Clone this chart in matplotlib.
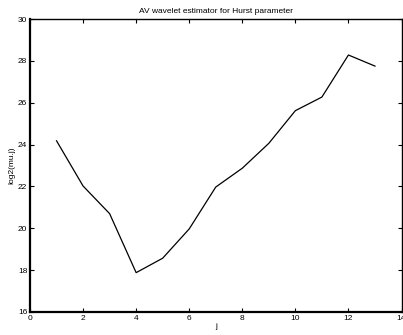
import matplotlib
matplotlib.use("Agg")
import matplotlib.pyplot as plt

# Dữ liệu
j = [1, 2, 3, 4, 5, 6, 7, 8, 9, 10, 11, 12, 13]
log2_mu = [24.18, 22.02, 20.70, 17.88, 18.57, 19.97, 21.97, 22.87, 24.06,
           25.62, 26.27, 28.28, 27.75]
x_ticks = [0, 2, 4, 6, 8, 10, 12, 14]
y_ticks = [16, 18, 20, 22, 24, 26, 28, 30]

plt.rcParams['font.family'] = ['Liberation Sans', 'DejaVu Sans']

fig = plt.figure(figsize=(4.03, 3.35), dpi=100)
ax = fig.add_axes([30 / 403, 1 - 312 / 335, 371.5 / 403, 293 / 335])

ax.plot(j, log2_mu, color='black', linewidth=0.9)

ax.set_xlim(0, 14)
ax.set_ylim(16, 30)
ax.set_xticks(x_ticks)
ax.set_yticks(y_ticks)
ax.tick_params(direction='in', top=True, right=True, length=3, width=0.8,
               labelsize=6, pad=2)

for side in ['left', 'bottom']:
    ax.spines[side].set_linewidth(1.6)
for side in ['top', 'right']:
    ax.spines[side].set_linewidth(1.0)

ax.set_title("AV wavelet estimator for Hurst parameter", fontsize=6, pad=4)
ax.set_xlabel("j", fontsize=6, labelpad=1)
ax.set_ylabel("log2(mu.j)", fontsize=6, labelpad=2)

fig.savefig("out.png", dpi=100)
